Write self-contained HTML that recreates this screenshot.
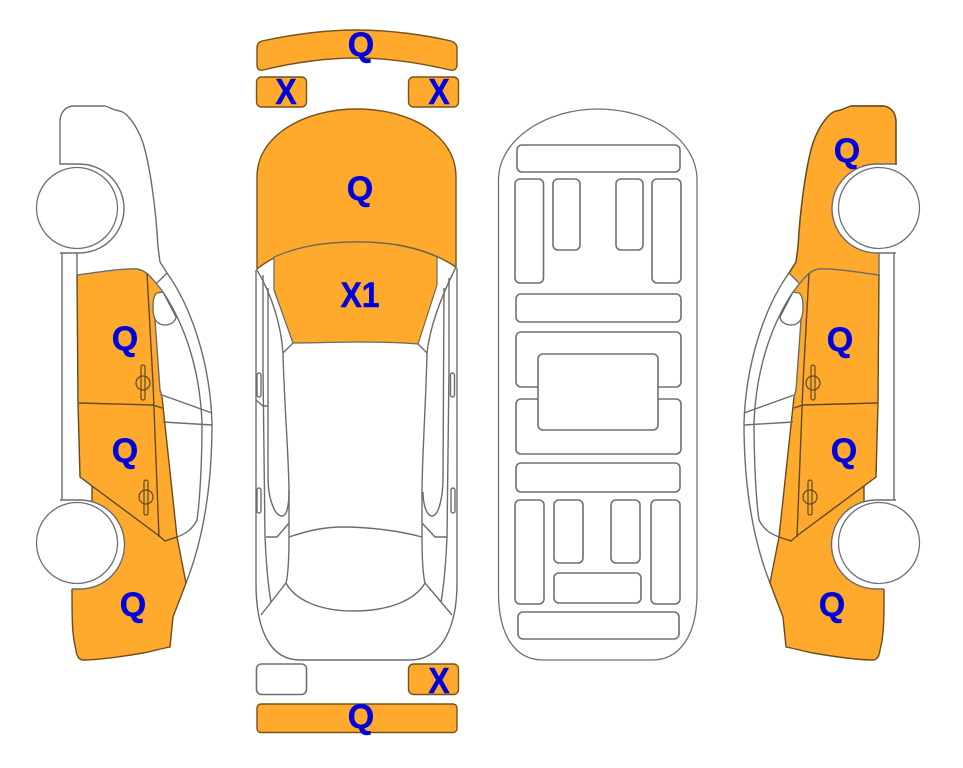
<!DOCTYPE html>
<html>
<head>
<meta charset="utf-8">
<style>
html,body{margin:0;padding:0;background:#fff}
svg{display:block}
text{font-family:"Liberation Sans",sans-serif;font-weight:bold;fill:#0000dc;text-anchor:middle;stroke:#0000dc;stroke-width:.4}
.l{fill:none;stroke:#6c6c6c;stroke-width:1.4}
.g{fill:#fff;stroke:#707070;stroke-width:1.6}
.o{fill:#ffa92d;stroke:#75521f;stroke-width:1.4}
</style>
</head>
<body>
<svg width="963" height="768" viewBox="0 0 963 768" xmlns="http://www.w3.org/2000/svg">
<defs>
<g id="car">
  <path d="M77 275C100 272 125 268 137 269C145 270 150 275 163 292L153 300L155 320L160 390L162 397L177 537L186 583L173 617L170 647C155 650 150 652 143 653C120 657 100 660 83 660C78 660 76 653 76 650C72 635 72 620 72 589L92 540L92 486L80 477L78 403Z" fill="#ffa92d"/>
  <path d="M60 165V122C60 112 66 106 74 106L105 106C110 107 112 110 120 111C128 113 138 128 143 143C150 165 156 210 158 247L160 262L167 273" class="l"/>
  <path d="M167 273L157 283" class="l"/>
  <path d="M167 273C190 305 210 360 212 423C212 480 205 535 186 583" class="l"/>
  <path d="M163 292C185 325 200 370 202 423C202 460 200 500 197 520C192 530 185 534 177 537" class="l"/>
  <path d="M62 253V502M77 253V275" class="l"/>
  <path d="M77 275C100 272 125 268 137 269C145 270 150 275 163 292" class="l"/>
  <path d="M77 275L78 403L80 477L158 535L165 541L177 537M92 486V502" class="l" style="stroke:#5f4a26"/>
  <path d="M147 273L153 383L159 537M79 403L153 405L162 408" class="l" style="stroke:#5f4a26"/>
  <path d="M162 397L177 537L186 583L173 617L170 647C155 650 150 652 143 653C120 657 100 660 83 660C78 660 76 653 76 650C72 635 72 620 72 589" class="l" style="stroke:#6b4d1d"/>
  <path d="M162 395L212 413M163 422L212 425M155 320L160 390L162 397" class="l"/>
  <path d="M157 293C153 296 153 303 153 308C153 316 155 325 165 325C172 325 176 320 176 317L163 292Z" fill="#fff" stroke="#666" stroke-width="1.3"/>
  <rect x="141" y="365" width="4" height="35" rx="2" fill="none" stroke="#5f4a26" stroke-width="1.2"/>
  <ellipse cx="143" cy="383" rx="7" ry="7" fill="none" stroke="#5f4a26" stroke-width="1.2"/>
  <rect x="144" y="480" width="4" height="35" rx="2" fill="none" stroke="#5f4a26" stroke-width="1.2"/>
  <ellipse cx="146" cy="497" rx="7" ry="7" fill="none" stroke="#5f4a26" stroke-width="1.2"/>
  <path d="M60 164H79A45 44.5 0 0 1 79 253H60Z" fill="#fff"/>
  <path d="M60 164H79A45 44.5 0 0 1 79 253H60" class="l"/>
  <path d="M60 500H80A44.5 44.5 0 0 1 80 589H72Z" fill="#fff"/>
  <path d="M60 500H80A44.5 44.5 0 0 1 80 589H72" class="l"/>
  <circle cx="77" cy="208" r="40.5" class="g" style="stroke-width:1.3"/>
  <circle cx="77" cy="543" r="40.5" class="g" style="stroke-width:1.3"/>
</g>
</defs>

<!-- left car -->
<use href="#car"/>

<!-- right car -->
<g transform="matrix(-1 0 0 1 956 0)">
  <path d="M60 165V122C60 112 66 106 74 106L105 106C110 107 112 110 120 111C128 113 138 128 143 143C150 165 156 210 158 247L160 262L167 273L157 283L147 273L137 269L77 275V253H60Z" fill="#ffa92d"/>
  <use href="#car"/>
  <path d="M60 165V122C60 112 66 106 74 106L105 106C110 107 112 110 120 111C128 113 138 128 143 143C150 165 156 210 158 247L160 262L167 273" fill="none" stroke="#6b4d1d" stroke-width="1.4"/>
</g>

<!-- top view: orange parts -->
<path d="M262 41C290 35 325 30 357 30C390 30 425 35 451 41C455 42 457 45 457 48V65C457 69 454 71 450 70C420 63 390 58 357 58C325 58 292 63 263 70C259 71 257 69 257 65V48C257 45 258 42 262 41Z" class="o"/>
<rect x="256.500" y="77" width="50" height="30" rx="5" class="o"/>
<rect x="408.500" y="77" width="50" height="30" rx="5" class="o"/>
<path d="M257 269V177C257 135 305 109 357 109C410 109 456 135 456 177V267C430 250 400 242 357 242C315 242 280 250 257 269Z" class="o"/>
<path d="M274 257C300 246 325 242 357 242C390 242 415 247 437 257L437 285L418 344C395 342 375 342 357 342C335 342 315 343 293 343L274 290Z" fill="#ffa92d" stroke="#6a6a5a" stroke-width="1.2"/>

<!-- top view: lines -->
<path d="M256 270V583C256 630 270 660 300 660H410C440 660 457 630 457 583V268" class="l"/>
<path d="M263 275V370L265 537C266 560 268 585 271 602M268 288V477C268 500 275 516 282 516C287 516 289 505 289 490" class="l"/>
<path d="M449 278V370L447 537C446 560 444 585 441 602M444 288L443 477C443 500 438 516 432 516C427 516 423 505 423 492" class="l"/>
<path d="M257 270C272 295 281 325 283 353C284 400 289 460 289 493V537C289 560 288 575 286 583" class="l"/>
<path d="M456 267C442 295 430 325 427 353C426 400 422 460 422 493V537C422 560 423 575 425 583" class="l"/>
<path d="M293 343L283 353M418 344L427 353" class="l"/>
<path d="M289 537C310 530 325 527 343 527C370 527 400 531 422 537" class="l"/>
<path d="M286 583C295 600 320 611 353 611C390 611 415 600 425 583L452 615M286 583L261 615" class="l"/>
<path d="M256 400L263 406H268M266 537H277L289 523M447 537H435L422 523" class="l"/>
<rect x="257" y="373" width="4" height="24" rx="2" class="l"/>
<rect x="257" y="488" width="4" height="25" rx="2" class="l"/>
<rect x="450.500" y="373" width="4" height="24" rx="2" class="l"/>
<rect x="451" y="488" width="4" height="25" rx="2" class="l"/>
<rect x="256.500" y="664" width="50" height="30.500" rx="5" class="g"/>
<rect x="408.500" y="664" width="50" height="30.500" rx="5" class="o"/>
<rect x="257" y="704" width="200" height="28.500" rx="4" class="o"/>

<!-- underside -->
<path d="M498.500 180C498.500 140 545 109 598 109C652 109 697 140 697 180V593C697 635 680 660 652 660H543C515 660 498.500 635 498.500 593Z" class="g" style="stroke-width:1.3"/>
<rect x="517" y="145" width="163" height="27" rx="5" class="g"/>
<rect x="515" y="179" width="28.500" height="104" rx="5" class="g"/>
<rect x="553" y="179" width="27" height="71" rx="5" class="g"/>
<rect x="616" y="179" width="27" height="71" rx="5" class="g"/>
<rect x="652" y="179" width="29" height="104" rx="5" class="g"/>
<rect x="516" y="294" width="165" height="28" rx="5" class="g"/>
<rect x="516" y="332" width="165" height="55" rx="5" class="g"/>
<rect x="516" y="399" width="165" height="55" rx="5" class="g"/>
<rect x="538" y="354" width="120" height="76" rx="5" class="g"/>
<rect x="516" y="463" width="164" height="29" rx="5" class="g"/>
<rect x="515" y="500" width="29" height="104" rx="5" class="g"/>
<rect x="554" y="500" width="29" height="63" rx="5" class="g"/>
<rect x="611" y="500" width="29" height="63" rx="5" class="g"/>
<rect x="651" y="500" width="29" height="104" rx="5" class="g"/>
<rect x="554" y="573" width="87" height="30" rx="5" class="g"/>
<rect x="518" y="612" width="161" height="27" rx="5" class="g"/>

<!-- labels -->
<text x="361" y="56" font-size="34">Q</text>
<text font-size="32" transform="translate(286 104) scale(1 1.13)">X</text>
<text font-size="32" transform="translate(439 104) scale(1 1.13)">X</text>
<text x="360" y="200" font-size="34">Q</text>
<text font-size="32" transform="translate(360 307) scale(1 1.1)">X1</text>
<text font-size="32" transform="translate(439 693) scale(1 1.13)">X</text>
<text x="361" y="728" font-size="34">Q</text>
<text x="125" y="350" font-size="34">Q</text>
<text x="125" y="462" font-size="34">Q</text>
<text x="133" y="616" font-size="34">Q</text>
<text x="847" y="162" font-size="34">Q</text>
<text x="840" y="351" font-size="34">Q</text>
<text x="844" y="462" font-size="34">Q</text>
<text x="832" y="616" font-size="34">Q</text>
</svg>
</body>
</html>
